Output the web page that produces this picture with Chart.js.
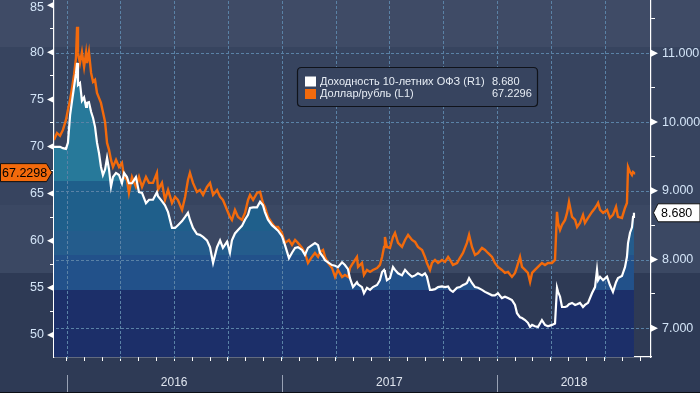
<!DOCTYPE html>
<html><head><meta charset="utf-8">
<script src="https://cdn.jsdelivr.net/npm/chart.js@4/dist/chart.umd.min.js"></script>
<style>html,body{margin:0;padding:0;background:#2e3a55;}canvas{display:block}</style>
</head><body>
<canvas id="c" width="700" height="393"></canvas>
<script>
// Time in months since 1 Jan 2016
const months = [
-0.70,-0.53,-0.36,-0.20,-0.03,0.08,0.20,0.31,0.42,0.53,0.59,0.64,0.75,0.86,0.98,1.09,1.14,1.25,1.37,1.48,1.59,1.70,1.81,1.92,2.03,2.15,2.26,2.37,2.48,2.59,2.76,2.93,3.09,3.21,3.37,3.48,3.65,3.87,4.04,4.21,4.43,4.60,
4.82,5.04,5.10,5.32,5.49,5.66,5.88,6.05,6.21,6.44,6.61,6.77,6.88,7.05,7.27,7.44,7.61,7.83,8.00,8.17,8.39,8.56,8.72,8.95,9.11,9.22,9.39,9.56,9.78,9.95,10.12,
10.23,10.40,10.62,10.79,10.95,11.06,11.23,11.45,11.62,11.79,12.01,12.18,12.40,12.57,12.74,12.90,13.13,13.29,13.46,13.68,13.85,14.02,14.13,14.30,14.41,14.58,14.80,14.97,15.13,15.36,15.52,15.69,
15.80,15.97,16.19,16.25,16.47,16.58,16.75,16.92,17.08,17.31,17.47,17.59,17.70,17.75,17.86,18.03,18.20,18.31,18.48,18.70,18.87,19.04,19.26,19.43,19.59,19.82,19.98,20.09,20.26,20.37,20.54,20.71,20.93,21.10,21.27,
21.38,21.54,21.77,21.93,22.10,22.21,22.32,22.44,22.60,22.77,22.94,23.16,23.33,23.49,23.72,23.88,24.05,24.27,24.44,24.61,24.83,25.00,25.11,25.28,25.39,25.56,25.72,25.84,25.95,26.11,26.28,26.50,26.67,26.84,
27.06,27.23,27.34,27.40,27.51,27.62,27.79,27.90,28.01,28.18,28.35,28.46,28.62,28.79,28.90,29.07,29.29,29.46,29.57,29.63,29.74,29.91,30.13,30.29,30.46,30.63,30.74,30.96,31.13,31.24,31.30,31.41,31.52,31.58,31.63
];
// USD/RUB (left axis, L1)
const usdRub = [
70.70,71.44,71.13,71.76,72.82,73.89,74.95,76.22,77.60,79.41,82.70,79.94,78.87,80.04,78.45,79.94,78.87,80.04,77.81,76.86,77.07,75.69,75.16,74.63,73.67,72.61,70.38,69.64,68.58,67.83,68.58,67.83,68.26,66.77,66.45,65.07,66.77,65.71,66.77,65.71,66.77,66.14,
66.14,67.20,65.39,66.14,64.33,65.39,64.01,64.65,64.33,63.27,64.65,66.45,67.20,66.14,65.18,65.39,64.86,65.71,66.14,64.86,65.39,64.65,64.33,63.27,62.53,62.21,63.27,62.53,62.21,62.95,64.33,
64.86,64.33,65.07,65.18,64.01,63.59,62.53,61.89,61.46,61.46,60.83,59.77,60.08,59.55,60.08,59.77,59.24,58.70,57.64,58.28,58.70,58.28,58.81,59.02,58.28,57.64,57.11,56.16,56.90,56.16,56.37,56.16,
57.11,57.64,58.28,57.22,57.64,56.37,56.90,56.69,56.90,57.11,57.43,58.28,59.34,60.40,59.34,59.24,60.40,60.83,59.77,59.34,60.08,60.62,60.08,59.87,59.34,59.02,58.28,57.64,56.90,57.64,57.96,57.64,57.96,57.75,58.28,
57.96,57.43,57.64,58.17,58.70,59.24,59.77,60.62,59.34,58.49,58.70,59.24,59.02,58.70,58.28,57.64,57.22,56.90,56.58,56.69,56.16,56.58,57.22,58.28,57.22,56.90,56.58,55.63,56.58,56.90,57.22,57.64,57.43,57.64,
57.64,57.96,63.06,61.89,61.15,61.68,62.21,62.95,64.12,62.53,62.21,61.46,61.89,62.74,61.89,62.42,63.06,63.48,63.80,64.01,63.27,62.95,63.27,62.42,62.74,63.59,62.53,62.42,63.48,64.01,67.83,67.30,66.98,67.30,67.23
];
// 10-year OFZ yield, % (right axis, R1)
const ofz10y = [
9.64,9.64,9.64,9.62,9.61,9.70,10.10,10.31,10.51,10.71,10.86,10.54,10.57,10.31,10.36,10.22,10.28,10.29,10.15,10.06,9.93,9.70,9.55,9.35,9.23,9.31,9.48,9.31,9.06,9.20,9.26,9.23,9.11,9.26,9.20,9.11,9.11,9.20,8.98,8.97,8.82,8.87,
8.87,8.98,8.92,8.85,8.79,8.69,8.46,8.46,8.50,8.56,8.62,8.68,8.58,8.46,8.37,8.36,8.33,8.28,8.18,7.95,8.18,8.28,8.17,8.26,8.10,8.28,8.38,8.43,8.49,8.58,8.65,
8.75,8.76,8.76,8.84,8.79,8.69,8.58,8.50,8.46,8.42,8.34,8.21,8.02,8.10,8.17,8.18,8.14,8.07,8.17,8.21,8.24,8.21,8.10,8.04,7.99,7.96,7.92,7.91,7.89,7.96,7.92,7.86,
7.73,7.60,7.67,7.64,7.60,7.51,7.59,7.56,7.60,7.63,7.70,7.82,7.85,7.82,7.70,7.73,7.89,7.85,7.80,7.77,7.85,7.80,7.75,7.77,7.80,7.77,7.80,7.75,7.56,7.56,7.57,7.60,7.61,7.60,7.61,
7.56,7.53,7.59,7.60,7.63,7.64,7.66,7.73,7.66,7.60,7.59,7.56,7.53,7.51,7.48,7.48,7.51,7.44,7.46,7.44,7.41,7.34,7.22,7.16,7.15,7.12,7.08,7.02,7.05,7.03,7.02,7.12,7.05,7.03,
7.05,7.07,7.59,7.53,7.46,7.31,7.31,7.32,7.35,7.37,7.34,7.35,7.37,7.31,7.34,7.37,7.51,7.60,7.85,7.70,7.75,7.70,7.75,7.63,7.53,7.67,7.73,7.76,7.89,8.04,8.24,8.39,8.47,8.62,8.68
];
const monthTicks = [0,1,2,3,4,5,6,7,8,9,10,11,12,13,14,15,16,17,18,19,20,21,22,23,24,25,26,27,28,29,30,31,32];
const quarterTicks = [0,3,6,9,12,15,18,21,24,27,30];
const yearLabels = ['2016','2017','2018'];
const yearStarts = [0,12,24];
const leftTicks = [50,55,60,65,70,75,80,85];
const leftMinor = [52.5,57.5,62.5,67.5,72.5,77.5,82.5];
const rightTicks = [7,8,9,10,11];
const rightMinor = [7.5,8.5,9.5,10.5,11.5];
const seriesNames = ['Доходность 10-летних ОФЗ (R1)','Доллар/рубль (L1)'];
const legendValues = ['8.680','67.2296'];
const lastRub = 67.2298, lastRubText = '67.2298';
const lastOfz = 8.680, lastOfzText = '8.680';

const ORANGE = '#f26a0c';
const TICKTXT = '#d3e4f7';
const FONT = '"Liberation Sans", Arial, sans-serif';

function fillGradient(ctx){
  const g = ctx.createLinearGradient(0,0,0,393);
  const st = [[0,181,'#27799a'],[181,231,'#1f5f8b'],[231,255,'#245c8c'],[255,290,'#22518a'],[290,393,'#1c2f69']];
  st.forEach(([a,b,c])=>{g.addColorStop(a/393,c);g.addColorStop(b/393,c);});
  return g;
}

const bands = {
  id:'bands',
  beforeDraw(chart){
    const c = chart.ctx;
    c.save();
    [[0,47,'#3f4b66'],[47,205,'#37445f'],[205,273,'#3b4863'],[273,393,'#2e3a55']].forEach(([a,b,col])=>{c.fillStyle=col;c.fillRect(0,a,700,b-a);});
    c.restore();
  }
};

// dotted grid: drawn over the area fill, under the lines
const dottedGrid = {
  id:'dottedGrid',
  beforeDatasetsDraw(chart){
    const c = chart.ctx, A = chart.chartArea, x = chart.scales.x, yR = chart.scales.yR;
    c.save();
    c.fillStyle = '#5a82a6';
    quarterTicks.forEach(m=>{const px=Math.round(x.getPixelForValue(m));for(let yy=Math.ceil(A.top)+1;yy<A.bottom;yy+=5){c.fillRect(px,yy,1,3);}});
    rightTicks.forEach(v=>{const py=Math.round(yR.getPixelForValue(v));for(let xx=Math.ceil(A.left)+2;xx<A.right;xx+=5){c.fillRect(xx,py,3,1);}});
    c.restore();
  }
};

const decor = {
  id:'decor',
  afterDraw(chart){
    const c = chart.ctx, yL = chart.scales.yL, yR = chart.scales.yR, x = chart.scales.x, A = chart.chartArea;
    c.save();
    c.font = '12.5px '+FONT; c.fillStyle = TICKTXT; c.textAlign='right'; c.textBaseline='middle';
    c.fillText(String(leftTicks[leftTicks.length-1]), A.left-10, Math.max(8, yL.getPixelForValue(leftTicks[leftTicks.length-1])));
    c.fillStyle = '#ffffff';
    leftTicks.forEach(v=>{const y=yL.getPixelForValue(v);c.beginPath();c.moveTo(A.left-7,y);c.lineTo(A.left,y-3.5);c.lineTo(A.left,y+3.5);c.closePath();c.fill();});
    rightTicks.forEach(v=>{const y=yR.getPixelForValue(v);c.beginPath();c.moveTo(A.right+7,y);c.lineTo(A.right,y-3.5);c.lineTo(A.right,y+3.5);c.closePath();c.fill();});
    c.strokeStyle = '#98a1b4'; c.lineWidth = 1;
    yearStarts.forEach(m=>{const px=Math.round(x.getPixelForValue(m))+0.5;c.beginPath();c.moveTo(px,375);c.lineTo(px,393);c.stroke();});
    c.font = '12px '+FONT; c.fillStyle = '#dfe5ef'; c.textAlign='center'; c.textBaseline='middle';
    yearLabels.forEach((t,i)=>{const a=yearStarts[i], b=(i+1<yearStarts.length)?yearStarts[i+1]:x.max;c.fillText(t,(x.getPixelForValue(a)+x.getPixelForValue(b))/2,383);});
    c.fillStyle='#0c0f16'; c.fillRect(0,392,700,1);
    let y = yL.getPixelForValue(lastRub);
    c.beginPath(); c.moveTo(0.5,y-9); c.lineTo(46.5,y-9); c.lineTo(52,y); c.lineTo(46.5,y+9); c.lineTo(0.5,y+9); c.closePath();
    c.fillStyle = ORANGE; c.fill(); c.strokeStyle='#111'; c.lineWidth=1; c.stroke();
    c.fillStyle='#000'; c.font='12.5px '+FONT; c.textAlign='left'; c.fillText(lastRubText,2,y+0.5);
    y = yR.getPixelForValue(lastOfz);
    c.beginPath(); c.moveTo(653.5,y); c.lineTo(658,y-9); c.lineTo(700,y-9); c.lineTo(700,y+9); c.lineTo(658,y+9); c.closePath();
    c.fillStyle='#ffffff'; c.fill(); c.strokeStyle='#111'; c.stroke();
    c.fillStyle='#000'; c.fillText(lastOfzText,661,y+0.5);
    const lx=297.5, ly=67.5, lw=240, lh=39, r=4;
    c.beginPath(); c.moveTo(lx+r,ly); c.lineTo(lx+lw-r,ly); c.quadraticCurveTo(lx+lw,ly,lx+lw,ly+r); c.lineTo(lx+lw,ly+lh-r); c.quadraticCurveTo(lx+lw,ly+lh,lx+lw-r,ly+lh); c.lineTo(lx+r,ly+lh); c.quadraticCurveTo(lx,ly+lh,lx,ly+lh-r); c.lineTo(lx,ly+r); c.quadraticCurveTo(lx,ly,lx+r,ly); c.closePath();
    c.fillStyle='#37445f'; c.fill(); c.strokeStyle='#10131a'; c.lineWidth=1.2; c.stroke();
    const cols=['#ffffff',ORANGE], rows=[81.5,94];
    c.font='11px '+FONT; c.textAlign='left'; c.textBaseline='middle';
    seriesNames.forEach((n,i)=>{
      c.fillStyle=cols[i]; c.fillRect(305,rows[i]-5,11,10);
      c.fillStyle='#e6ecf4'; c.fillText(n,320,rows[i]); c.fillText(legendValues[i],492,rows[i]);
    });
    c.restore();
  }
};

new Chart(document.getElementById('c'), {
  type:'line',
  data:{datasets:[
    {label:seriesNames[0], yAxisID:'yR', data:months.map((m,i)=>({x:m,y:ofz10y[i]})), borderColor:'#ffffff', borderWidth:2.2, pointRadius:0, tension:0, fill:'start',
     backgroundColor:(ctx)=>fillGradient(ctx.chart.ctx), order:0},
    {label:seriesNames[1], yAxisID:'yL', data:months.map((m,i)=>({x:m,y:usdRub[i]})), borderColor:ORANGE, borderWidth:2.4, pointRadius:0, tension:0, fill:false, order:1}
  ]},
  options:{
    responsive:false, animation:false, maintainAspectRatio:false,
    layout:{padding:0},
    plugins:{legend:{display:false}, tooltip:{enabled:false}, filler:{drawTime:'beforeDatasetsDraw'}},
    scales:{
      x:{type:'linear', position:'bottom', min:-0.697, max:32.58,
         afterBuildTicks:s=>{s.ticks=monthTicks.map(v=>({value:v}));},
         afterFit:s=>{s.height=36;s.paddingLeft=0;s.paddingRight=0;},
         ticks:{display:false},
         grid:{drawOnChartArea:false, tickColor:'#ffffff', tickLength:4, tickWidth:1},
         border:{color:'#ffffff', width:1.2}},
      yL:{type:'linear', position:'left', min:47.66, max:85.55,
         afterBuildTicks:s=>{s.ticks=leftTicks.concat(leftMinor).sort((a,b)=>a-b).map(v=>({value:v}));},
         afterFit:s=>{s.width=54;s.paddingTop=0;s.paddingBottom=0;},
         ticks:{color:TICKTXT, font:{family:FONT,size:12.5}, padding:6, autoSkip:false, callback:v=>(leftTicks.includes(v) && v!==leftTicks[leftTicks.length-1])?String(v):''},
         grid:{drawOnChartArea:false, tickColor:c=>(c.tick && leftMinor.includes(c.tick.value))?'#ffffff':'rgba(0,0,0,0)', tickLength:4},
         border:{color:'#ffffff', width:1.2}},
      yR:{type:'linear', position:'right', min:6.583, max:11.775,
         afterBuildTicks:s=>{s.ticks=rightTicks.concat(rightMinor).sort((a,b)=>a-b).map(v=>({value:v}));},
         afterFit:s=>{s.width=49;s.paddingTop=0;s.paddingBottom=0;},
         ticks:{color:TICKTXT, font:{family:FONT,size:12.5}, padding:7, autoSkip:false, callback:v=>rightTicks.includes(v)?v.toFixed(3):''},
         grid:{drawOnChartArea:false, tickColor:c=>(c.tick && rightMinor.includes(c.tick.value))?'#ffffff':'rgba(0,0,0,0)', tickLength:4},
         border:{color:'#ffffff', width:1.2}}
    }
  },
  plugins:[bands, dottedGrid, decor]
});
</script>
</body></html>
